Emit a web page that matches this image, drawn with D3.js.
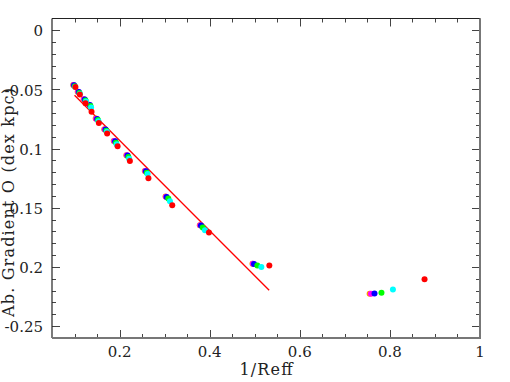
<!DOCTYPE html>
<html lang="en">

<head>
    <meta charset="UTF-8">
    <title>gradient</title>
    <script src="https://d3js.org/d3.v7.min.js"></script>
    <style>
        * {
            padding: 0;
            margin: 0;
        }

        body {
            background: #fff;
        }

        text {
            font-family: "DejaVu Serif", serif;
            fill: #222;
        }
    </style>
</head>

<body>
    <div class="context"></div>
    <script>
        // x = 1/Reff, y = abundance gradient of O, one entry per model group
        let xOrange = [0.097, 0.107, 0.120, 0.131, 0.147, 0.166, 0.187, 0.215, 0.256, 0.302, 0.378, 0.495, 0.755];
        let yOrange = [-0.0462, -0.0519, -0.0582, -0.0628, -0.0746, -0.0836, -0.0935, -0.1055, -0.1188, -0.1405, -0.1647, -0.1972, -0.2226];
        let xMagenta = [0.098, 0.108, 0.121, 0.132, 0.148, 0.167, 0.188, 0.216, 0.257, 0.303, 0.379, 0.496, 0.758];
        let yMagenta = [-0.0463, -0.0520, -0.0583, -0.0629, -0.0747, -0.0837, -0.0936, -0.1056, -0.1189, -0.1406, -0.1648, -0.1973, -0.2225];
        let xBlue = [0.099, 0.1096, 0.1229, 0.134, 0.1502, 0.1689, 0.1902, 0.2178, 0.2585, 0.3044, 0.3807, 0.4984, 0.7658];
        let yBlue = [-0.0465, -0.0522, -0.0585, -0.0631, -0.0749, -0.0839, -0.0938, -0.1058, -0.1191, -0.1408, -0.165, -0.1974, -0.2224];
        let xGreen = [0.1005, 0.111, 0.1245, 0.1355, 0.152, 0.1705, 0.192, 0.2195, 0.2605, 0.3082, 0.3845, 0.5058, 0.7813];
        let yGreen = [-0.0472, -0.0530, -0.0593, -0.0640, -0.0758, -0.0848, -0.0950, -0.1070, -0.1203, -0.1422, -0.1667, -0.1987, -0.2217];
        let xCyan = [0.1015, 0.112, 0.1255, 0.1368, 0.1532, 0.1718, 0.1935, 0.2212, 0.2622, 0.3118, 0.3895, 0.5147, 0.8067];
        let yCyan = [-0.0478, -0.0537, -0.0602, -0.0652, -0.0768, -0.0858, -0.0962, -0.1085, -0.1215, -0.1444, -0.1689, -0.1999, -0.219];
        let xRed = [0.102, 0.1118, 0.1244, 0.1378, 0.154, 0.1724, 0.1956, 0.2229, 0.264, 0.3169, 0.3984, 0.5324, 0.8769];
        let yRed = [-0.0479, -0.0543, -0.0617, -0.0687, -0.0783, -0.0872, -0.098, -0.1104, -0.125, -0.1478, -0.1709, -0.1987, -0.2103];

        // linear fit drawn in red
        let fitX = [0.1, 0.532];
        let fitY = [-0.0549, -0.2196];

        let xTicks = [0.2, 0.4, 0.6, 0.8, 1];
        let xTickLabels = ["0.2", "0.4", "0.6", "0.8", "1"];
        let yTicks = [0, -0.05, -0.1, -0.15, -0.2, -0.25];
        let yTickLabels = ["0", "-0.05", "0.1", "0.15", "0.2", "-0.25"];

        let series = [
            { xs: xOrange, ys: yOrange, color: "#ff9900" },
            { xs: xMagenta, ys: yMagenta, color: "#ff00ff" },
            { xs: xBlue, ys: yBlue, color: "#0000ff" },
            { xs: xGreen, ys: yGreen, color: "#00ff00" },
            { xs: xCyan, ys: yCyan, color: "#00ffff" },
            { xs: xRed, ys: yRed, color: "#ff0000" }
        ];

        let W = 510, H = 382;
        let mLeft = 52, mRight = 480, mTop = 18.5, mBottom = 338;

        let svg = d3.select(".context")
            .append("svg")
            .attr("width", W)
            .attr("height", H);

        let x = d3.scaleLinear().domain([0.05, 1]).range([mLeft, mRight]);
        let y = d3.scaleLinear().domain([-0.26, 0.01]).range([mBottom, mTop]);

        // minor ticks every 0.05 in x, every 0.01 in y
        let xMinor = d3.range(0.1, 1.0001, 0.05);
        let yMinor = d3.range(-0.25, 0.0001, 0.01);
        let isMajorX = v => xTicks.some(t => Math.abs(t - v) < 1e-6);
        let isMajorY = v => Math.abs(Math.round(v * 20) - v * 20) < 1e-6;

        let ticks = svg.append("g").attr("stroke", "#444").attr("stroke-width", 1);
        xMinor.forEach(v => {
            let len = isMajorX(v) ? 8 : 4;
            let px = Math.round(x(v)) + 0.5;
            ticks.append("line").attr("x1", px).attr("x2", px).attr("y1", mBottom).attr("y2", mBottom - len);
            ticks.append("line").attr("x1", px).attr("x2", px).attr("y1", mTop).attr("y2", mTop + len);
        });
        yMinor.forEach(v => {
            let len = isMajorY(v) ? 8 : 4;
            let py = Math.round(y(v)) + 0.5;
            ticks.append("line").attr("x1", mLeft).attr("x2", mLeft + len).attr("y1", py).attr("y2", py);
            ticks.append("line").attr("x1", mRight).attr("x2", mRight - len).attr("y1", py).attr("y2", py);
        });

        // frame
        svg.append("line").attr("x1", mLeft).attr("x2", mRight).attr("y1", mTop).attr("y2", mTop)
            .attr("stroke", "#222").attr("stroke-width", 1.2);
        svg.append("line").attr("x1", mLeft).attr("x2", mLeft).attr("y1", mTop).attr("y2", mBottom)
            .attr("stroke", "#222").attr("stroke-width", 1.2);
        svg.append("line").attr("x1", mLeft).attr("x2", mRight + 1).attr("y1", mBottom).attr("y2", mBottom)
            .attr("stroke", "#777").attr("stroke-width", 2);
        svg.append("line").attr("x1", mRight).attr("x2", mRight).attr("y1", mTop).attr("y2", mBottom)
            .attr("stroke", "#777").attr("stroke-width", 2);

        // tick labels
        svg.selectAll(".xl").data(xTicks).enter().append("text")
            .attr("x", d => x(d))
            .attr("y", 357)
            .attr("text-anchor", "middle")
            .style("font-size", "15px")
            .text((d, i) => xTickLabels[i]);

        svg.selectAll(".yl").data(yTicks).enter().append("text")
            .attr("x", 43)
            .attr("y", d => y(d) + 6)
            .attr("text-anchor", "end")
            .style("font-size", "15px")
            .text((d, i) => yTickLabels[i]);

        // axis titles
        svg.append("text")
            .attr("x", (mLeft + mRight) / 2)
            .attr("y", 375)
            .attr("text-anchor", "middle")
            .attr("textLength", 53)
            .attr("lengthAdjust", "spacing")
            .style("font-size", "16px")
            .text("1/Reff");

        svg.append("text")
            .attr("transform", "translate(14," + 202.5 + ") rotate(-90)")
            .attr("text-anchor", "middle")
            .attr("textLength", 229)
            .attr("lengthAdjust", "spacing")
            .style("font-size", "16px")
            .text("Ab. Gradient O (dex kpc)");

        // fit line
        svg.append("line")
            .attr("x1", x(fitX[0])).attr("y1", y(fitY[0]))
            .attr("x2", x(fitX[1])).attr("y2", y(fitY[1]))
            .attr("stroke", "#ff0000")
            .attr("stroke-width", 1.3);

        // points
        series.forEach(s => {
            svg.append("g").selectAll("circle")
                .data(s.xs.map((v, i) => [v, s.ys[i]]))
                .enter().append("circle")
                .attr("cx", d => x(d[0]))
                .attr("cy", d => y(d[1]))
                .attr("r", 3)
                .attr("fill", s.color);
        });
    </script>
</body>

</html>
